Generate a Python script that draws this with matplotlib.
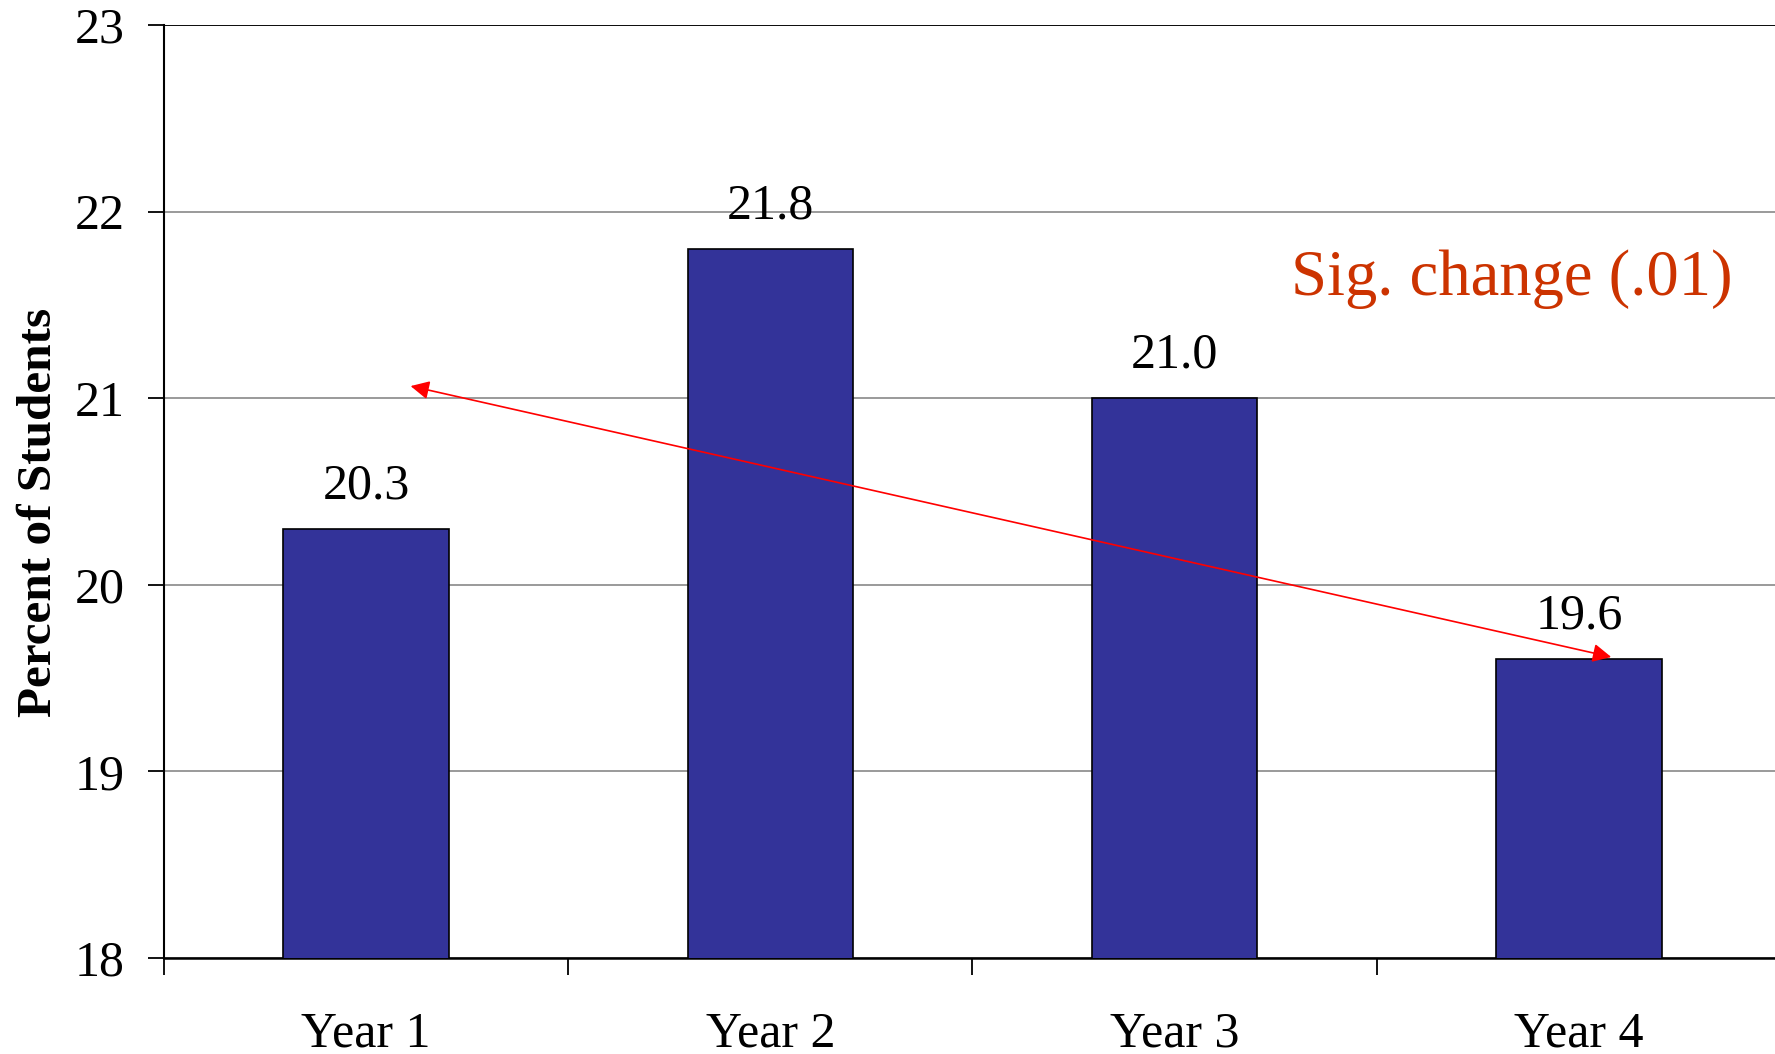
import numpy as np
import matplotlib
matplotlib.use('Agg')
import matplotlib.pyplot as plt

# survey results by year
years = ['Year 1', 'Year 2', 'Year 3', 'Year 4']
percent = [20.3, 21.8, 21.0, 19.6]
yticks = [18, 19, 20, 21, 22, 23]
note = 'Sig. change (.01)'

plt.rcParams['font.family'] = ['Liberation Serif', 'DejaVu Serif']

fig = plt.figure(figsize=(17.75, 10.54), dpi=100)
ax = fig.add_axes([164 / 1775, 1 - 958 / 1054, (1781 - 164) / 1775, (958 - 25) / 1054])

x = np.arange(len(years))
ax.bar(x, percent, width=0.41, color='#333399', edgecolor='black', lw=1.2, zorder=3)

for xi, v in zip(x, percent):
    ax.annotate(f'{v:.1f}', (xi, v), xytext=(0, 22), textcoords='offset points',
                ha='center', va='baseline', fontsize=36)

ax.set_xlim(-0.5, len(years) - 0.5)
ax.set_ylim(18, 23)
ax.set_yticks(yticks)
ax.set_yticklabels([str(t) for t in yticks], fontsize=36)
ax.set_xticks(x)
ax.set_xticklabels(years, fontsize=36)
ax.set_xticks(np.arange(len(years) + 1) - 0.5, minor=True)

ax.tick_params(axis='y', length=11.5, width=1.3, pad=17, direction='out')
ax.tick_params(axis='x', which='major', length=0, pad=38)
ax.tick_params(axis='x', which='minor', length=12, width=1.3, direction='out')

ax.yaxis.grid(True, color='#7f7f7f', lw=1.1, zorder=0)
ax.axhline(23, color='black', lw=1.3, zorder=2)
ax.set_axisbelow(True)

for s in ['top', 'right']:
    ax.spines[s].set_visible(False)
ax.spines['left'].set_linewidth(1.5)
ax.spines['bottom'].set_linewidth(1.8)

ax.set_ylabel('Percent of Students', fontsize=35.5, fontweight='bold', labelpad=10, y=0.478)

# significance arrow between year 1 and year 4
ax.annotate('', xy=(0.11, 21.065), xytext=(3.08, 19.613),
            arrowprops=dict(arrowstyle='<|-|>', color='red', lw=1.2,
                            mutation_scale=28, shrinkA=0, shrinkB=0),
            zorder=5)

ax.text(2.835, 21.64, note, color='#cc3300', fontsize=46.5, ha='center', va='center')

fig.savefig('out.png', dpi=100)
